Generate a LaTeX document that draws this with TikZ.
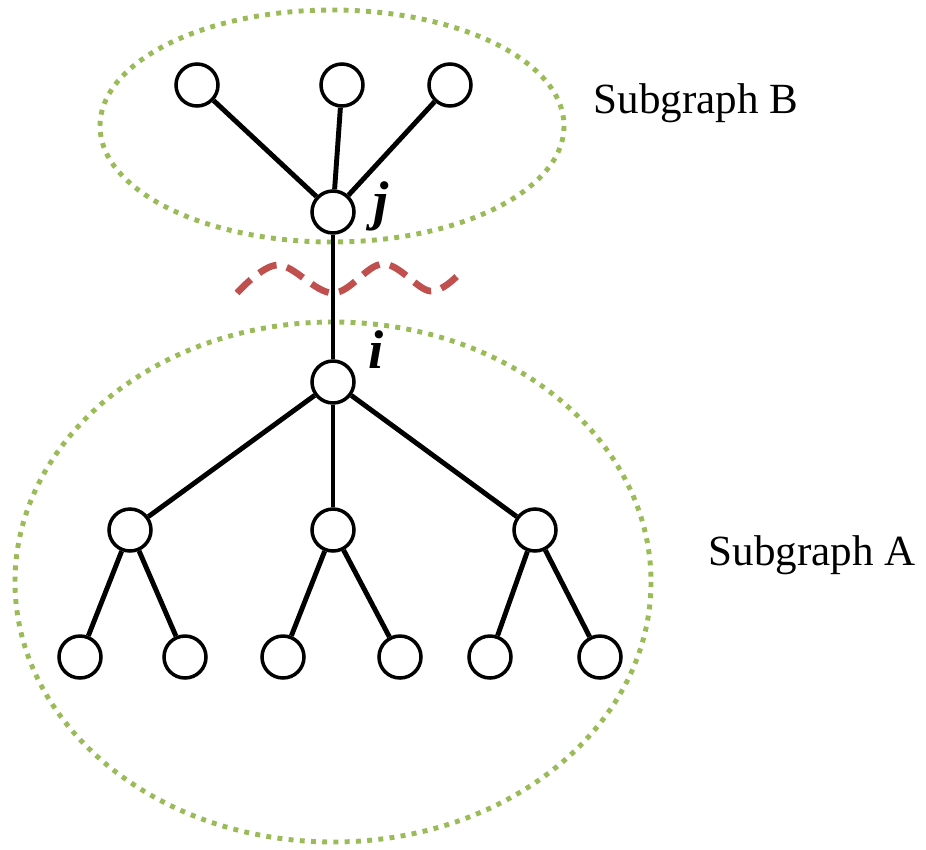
\documentclass[tikz,border=0pt]{standalone}
\usepackage{fontspec}
\setmainfont{Liberation Serif}
\definecolor{olivegreen}{RGB}{155,187,89}
\definecolor{cutred}{RGB}{192,80,77}

\begin{document}
\begin{tikzpicture}[
    x=0.02cm, y=-0.02cm,
    vertex/.style={circle, draw, line width=2pt, minimum size=0.84cm, inner sep=0pt, fill=white},
    edge/.style={line width=2.8pt},
    region/.style={draw=olivegreen, line width=2.8pt, dash pattern=on 2.8pt off 3.6pt},
    caption/.style={anchor=base, font=\fontsize{24.5}{28}\selectfont},
    vlabel/.style={anchor=base, font=\fontsize{31}{34}\selectfont\bfseries\itshape}
]
\useasboundingbox (0,0) rectangle (926,849);

% Subgraphs
\draw[region] (332,126) ellipse [x radius=232, y radius=116];
\draw[region] (333,582) ellipse [x radius=318, y radius=260];

% Cut
\draw[cutred, line width=3.8pt, dash pattern=on 11pt off 6pt]
    plot[smooth, tension=0.6] coordinates {(237,293) (278,265) (333,293) (383,264) (430,291) (460,273)};

% Nodes
\node[vertex] (b1) at (197,85) {};
\node[vertex] (b2) at (342,85) {};
\node[vertex] (b3) at (450,85) {};
\node[vertex] (j) at (333,212) {};
\node[vertex] (i) at (333,382) {};
\node[vertex] (a1) at (130,530) {};
\node[vertex] (a2) at (333,530) {};
\node[vertex] (a3) at (535,530) {};
\node[vertex] (a11) at (80,657) {};
\node[vertex] (a12) at (185,657) {};
\node[vertex] (a21) at (283,657) {};
\node[vertex] (a22) at (400,657) {};
\node[vertex] (a31) at (490,657) {};
\node[vertex] (a32) at (600,657) {};

% Edges
\draw[edge] (b1) -- (j);
\draw[edge] (b2) -- (j);
\draw[edge] (b3) -- (j);
\draw[edge] (j) -- (i);
\draw[edge] (i) -- (a1);
\draw[edge] (i) -- (a2);
\draw[edge] (i) -- (a3);
\draw[edge] (a1) -- (a11);
\draw[edge] (a1) -- (a12);
\draw[edge] (a2) -- (a21);
\draw[edge] (a2) -- (a22);
\draw[edge] (a3) -- (a31);
\draw[edge] (a3) -- (a32);

% Labels
\node[vlabel] (jlabel) at (381,219) {j};
\node[vlabel] (ilabel) at (376,368) {i};
\node[caption] (subb) at (696,113) {Subgraph B};
\node[caption] (suba) at (812,565) {Subgraph A};

\end{tikzpicture}
\end{document}
